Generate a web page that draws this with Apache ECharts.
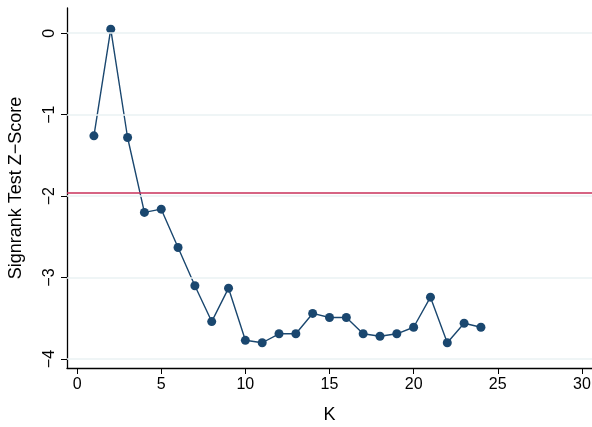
<!DOCTYPE html>
<html>
<head>
<meta charset="utf-8">
<script src="https://cdn.jsdelivr.net/npm/echarts@6/dist/echarts.min.js"></script>
<style>html,body{margin:0;padding:0;background:#fff}#c{width:592px;height:427px}</style>
</head>
<body>
<div id="c"></div>
<script>
var kValues = [1,2,3,4,5,6,7,8,9,10,11,12,13,14,15,16,17,18,19,20,21,22,23,24];
var zScores = [-1.26,0.05,-1.28,-2.20,-2.16,-2.63,-3.10,-3.54,-3.13,-3.77,-3.80,-3.69,-3.69,-3.44,-3.49,-3.49,-3.69,-3.72,-3.69,-3.61,-3.24,-3.80,-3.56,-3.61];
var xTicks = [0,5,10,15,20,25,30];
var yTicks = [-4,-3,-2,-1,0];
var refLine = -1.96;

var chart = echarts.init(document.getElementById('c'), null, {renderer:'canvas'});
var font = 'Liberation Sans, Arial, sans-serif';
var gridLines = yTicks.map(function(v){return {yAxis:v};});
chart.setOption({
  animation:false,
  grid:{left:67,right:0,top:8,bottom:59,containLabel:false,outerBoundsMode:'none'},
  xAxis:{
    type:'value', min:-0.6, max:30.6,
    name:'K', nameLocation:'middle', nameGap:38,
    nameTextStyle:{fontFamily:font,fontSize:18,color:'#000'},
    axisLine:{show:true,onZero:false,lineStyle:{color:'#000',width:1.3}},
    axisTick:{show:true,customValues:xTicks,length:6,lineStyle:{color:'#000',width:1}},
    axisLabel:{customValues:xTicks,fontFamily:font,fontSize:16,color:'#000',margin:9},
    splitLine:{show:false}
  },
  yAxis:{
    type:'value', min:-4.11, max:0.31,
    name:'Signrank Test Z\u2212Score', nameLocation:'middle', nameGap:42,
    nameTextStyle:{fontFamily:font,fontSize:18,color:'#000'},
    axisLine:{show:true,onZero:false,lineStyle:{color:'#000',width:1.3}},
    axisTick:{show:true,customValues:yTicks,length:6,lineStyle:{color:'#000',width:1}},
    axisLabel:{customValues:yTicks,rotate:90,fontFamily:font,fontSize:16,color:'#000',margin:9,
      formatter:function(v){return String(v).replace('-','\u2212');}},
    splitLine:{show:false}
  },
  series:[
    {type:'line',data:[],silent:true,
     markLine:{silent:true,symbol:'none',label:{show:false},
       lineStyle:{color:'#eaf2f3',width:1.5,type:'solid'},data:gridLines}},
    {type:'line',data:[],silent:true,
     markLine:{silent:true,symbol:'none',label:{show:false},
       lineStyle:{color:'#c8305a',width:1.5,type:'solid'},data:[{yAxis:refLine}]}},
    {type:'line',
     data:kValues.map(function(k,i){return [k,zScores[i]];}),
     symbol:'circle',symbolSize:9,showAllSymbol:true,
     lineStyle:{color:'#1a476f',width:1.4},
     itemStyle:{color:'#1a476f'}}
  ]
});
</script>
</body>
</html>
